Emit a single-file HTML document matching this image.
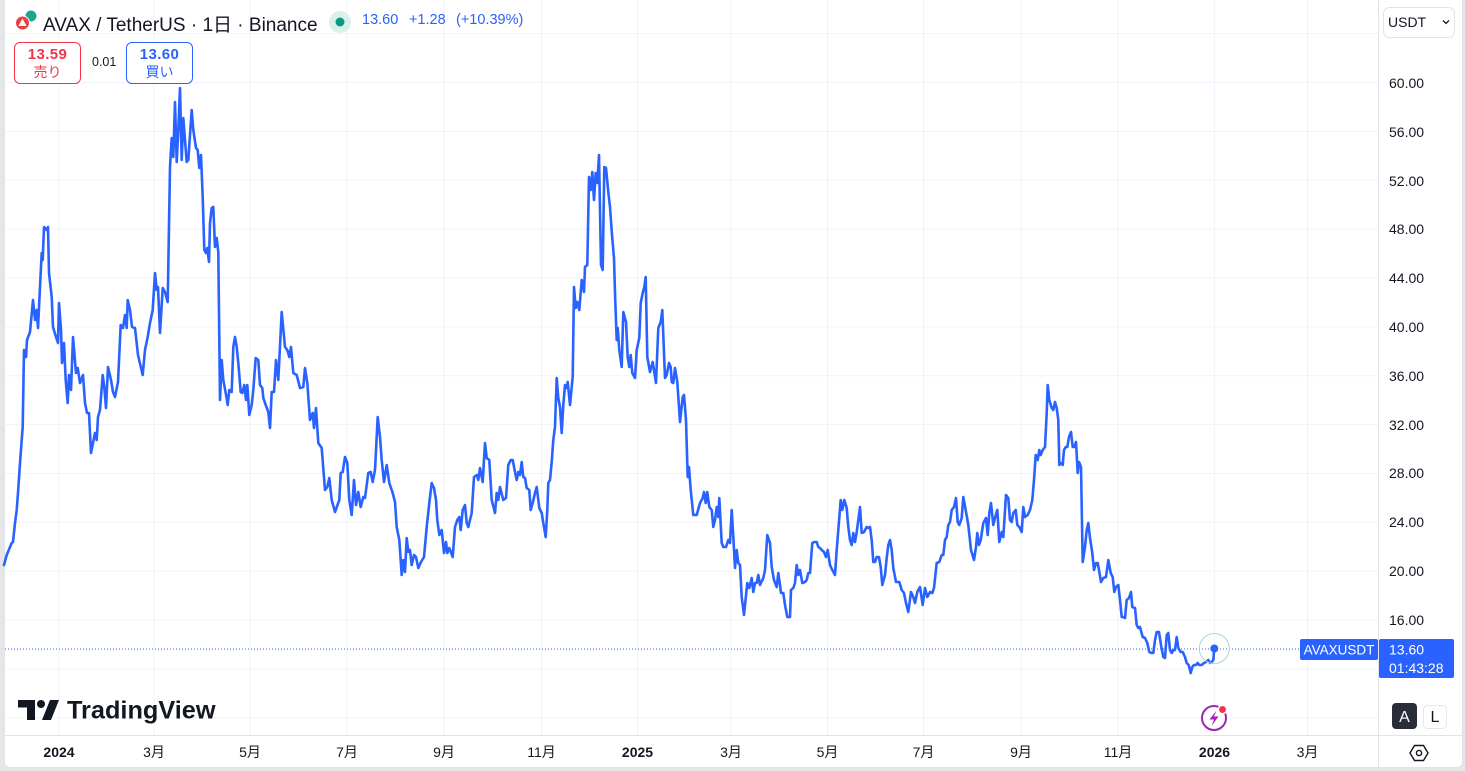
<!DOCTYPE html>
<html><head><meta charset="utf-8">
<style>
html,body{margin:0;padding:0;}
body{width:1465px;height:771px;background:#e6e6e6;position:relative;overflow:hidden;font-family:"Liberation Sans","Noto Sans CJK JP",sans-serif;}
.card{position:absolute;left:4px;top:0;width:1457px;height:767px;background:#fff;border:1px solid #e0e3eb;border-top:none;border-radius:0 0 6px 6px;}
.abs{position:absolute;}
.hdr{left:43px;top:10px;font-size:19px;color:#131722;white-space:nowrap;}
.q{top:12px;font-size:14.5px;color:#2962ff;white-space:nowrap;}
.box{width:65px;height:40px;border-radius:6px;text-align:center;background:#fff;}
.box .p{font-size:15px;font-weight:bold;margin-top:3px;line-height:17px;letter-spacing:0.4px;}
.box .l{font-size:14px;line-height:18px;}
</style></head>
<body>
<div class="card"></div>
<svg class="abs" style="left:0;top:0" width="1465" height="771" viewBox="0 0 1465 771">
 <g stroke="#f0f3fa" stroke-width="1">
  <line x1="4" y1="33.6" x2="1378" y2="33.6"/>
  <line x1="4" y1="82.5" x2="1378" y2="82.5"/>
  <line x1="4" y1="131.4" x2="1378" y2="131.4"/>
  <line x1="4" y1="180.3" x2="1378" y2="180.3"/>
  <line x1="4" y1="229.1" x2="1378" y2="229.1"/>
  <line x1="4" y1="278" x2="1378" y2="278"/>
  <line x1="4" y1="326.8" x2="1378" y2="326.8"/>
  <line x1="4" y1="375.7" x2="1378" y2="375.7"/>
  <line x1="4" y1="424.6" x2="1378" y2="424.6"/>
  <line x1="4" y1="473.4" x2="1378" y2="473.4"/>
  <line x1="4" y1="522.3" x2="1378" y2="522.3"/>
  <line x1="4" y1="571.2" x2="1378" y2="571.2"/>
  <line x1="4" y1="620" x2="1378" y2="620"/>
  <line x1="4" y1="668.9" x2="1378" y2="668.9"/>
  <line x1="4" y1="717.8" x2="1378" y2="717.8"/>
  <line x1="59" y1="0" x2="59" y2="735"/>
  <line x1="154" y1="0" x2="154" y2="735"/>
  <line x1="250" y1="0" x2="250" y2="735"/>
  <line x1="347" y1="0" x2="347" y2="735"/>
  <line x1="444" y1="0" x2="444" y2="735"/>
  <line x1="541.5" y1="0" x2="541.5" y2="735"/>
  <line x1="637.5" y1="0" x2="637.5" y2="735"/>
  <line x1="731" y1="0" x2="731" y2="735"/>
  <line x1="827.5" y1="0" x2="827.5" y2="735"/>
  <line x1="923.5" y1="0" x2="923.5" y2="735"/>
  <line x1="1021" y1="0" x2="1021" y2="735"/>
  <line x1="1118" y1="0" x2="1118" y2="735"/>
  <line x1="1214.5" y1="0" x2="1214.5" y2="735"/>
  <line x1="1307.5" y1="0" x2="1307.5" y2="735"/>
 </g>
 <line x1="1378.5" y1="0" x2="1378.5" y2="767" stroke="#e0e3eb" stroke-width="1"/>
 <line x1="4" y1="735.5" x2="1462" y2="735.5" stroke="#e0e3eb" stroke-width="1"/>
 <line x1="5" y1="649" x2="1300" y2="649" stroke="#2962ff" stroke-width="1" stroke-dasharray="1 2"/>
 <polyline fill="none" stroke="#2962ff" stroke-width="2.6" stroke-linejoin="round" stroke-linecap="round" points="4,565 6.7,555 11.7,543 13,542 15,523 16.7,510 18,493 20,463 22.7,427 24,350 26,357 27,340 30,332 33,300 35,320 36.7,310 38,328 40,287 41.7,253 42.7,260 44,227 46.7,230 48,227 49,273 51.7,297 53,327 56,337 58,343 59,303 61,330 62,363 64,343 65.7,380 67.7,403 69,375 71,390 73,337 76,373 77.7,368 80,383 83,375 85,403 87,413 89,413 91,453 93,443 95,433 96.7,440 98,417 100,410 102.7,375 104.3,387 106,408 108,367 111,380 113,392 115,397 118,382 120.7,325 123,328 125,315 126.7,328 127.7,300 130,310 132,327 135,328 138,355 142.7,375 145,350 147.7,337 150,323 152.7,310 155,273 156.7,290 158,287 160,333 162.7,288 165,292 167.7,302 170,167 171.7,138 173.3,157 175,102 176.7,162 178.3,130 180,88 181.7,160 183.3,118 186.7,162 188.3,160 191.7,110 193.3,130 196,148 197.7,150 199.3,168 201,155 202.7,197 204.3,250 206,253 207.3,248 209,262 210,223 211.7,208 213.3,207 215,247 216.7,238 218.3,252 220,400 221.7,360 223.3,380 225.7,393 227.7,405 229.3,390 231.7,392 233.3,347 235,337 236.7,347 238.3,363 240.7,392 242.3,393 244.3,385 246,400 247.3,385 249.3,415 251.7,405 253.3,390 255.7,358 258.3,360 260,385 262.3,388 263.3,398 265,403 268.3,412 270,428 271.7,392 274,392 276,360 278.3,380 281.7,312 285,347 287.3,350 289.3,357 291,347 293.3,373 296.7,375 300,388 303.3,387 305,368 307.3,383 310,420 312.7,413 314,428 316,408 318.3,443 321.7,448 325,490 327.3,487 329.3,478 331.7,500 335,512 339.3,500 340.7,473 342.7,472 345,457 347.3,463 349.3,500 351.7,515 354,480 356,505 358.3,492 360.7,507 363.3,497 365,498 368.3,473 370.7,472 372.7,482 375,470 377.7,417 380,437 381.7,460 384,482 386.7,465 389.3,483 392.7,493 395,502 396.7,527 399.3,540 401.7,575 403.3,560 405,572 406.7,538 408.3,552 410,550 411.7,565 414,555 416,557 418.3,568 421,562 424,557 426.7,527 429.3,503 431.7,483 434,488 436,500 437.3,520 439.3,535 441.7,530 444,553 446,542 447.3,553 449.3,548 452.7,557 455,527 457.3,520 459.3,517 460.7,530 462.7,510 465,505 466.7,523 468.3,527 471.7,513 474,477 476.7,475 478.3,480 480,468 482.7,482 485,443 486.7,458 489.3,460 491.7,500 495,513 496.7,493 498.3,500 500,487 503.3,500 506,498 508.3,465 510.7,460 512.7,460 515,472 516.7,480 518.3,472 520,475 521.7,462 523.3,477 525,478 526.7,488 529.3,490 530.7,510 532.7,503 535,493 536.7,487 539.3,508 541.7,513 543.3,523 545.7,537 547.3,510 548.3,483 550,480 551.7,462 553.3,440 555,427 556.7,378 558.3,398 560,407 561.7,433 563.3,405 565,385 566.7,388 567.7,382 570,405 572.7,377 574,287 575.7,308 577.3,302 579.3,310 581.7,280 584,292 585,267 587.3,265 589,177 590.7,190 592.3,172 594,200 595.7,173 597.3,183 599,155 601,265 602.7,270 604.3,167 606,168 608.3,192 610,207 612,235 614,258 615,293 616.7,340 617.7,328 619.3,350 621.7,367 623.3,312 626,322 627.7,357 629.3,367 630.7,355 632.3,373 635,378 636.7,350 639.3,338 640.7,303 642.7,293 644.3,287 645.7,277 647.3,357 650,372 652.7,362 654.3,372 656,383 658.3,328 660.7,322 662.3,310 665,378 666.7,375 669,363 670.7,367 671.7,382 673.3,383 675,368 677.3,382 680,422 682.7,397 684,395 686,420 687.7,477 689,467 690.7,490 693.3,515 696.7,515 700,503 702.7,498 704,492 705.7,503 707.3,492 709.3,507 711.7,510 713.3,527 715,520 716.7,507 718.3,517 719.3,498 721.7,543 723.3,547 726,547 728.3,540 730,543 731.7,510 733.3,537 735,568 736.7,550 738.3,563 740,565 741.7,597 744,615 747.3,583 749.3,588 751.7,578 753.3,592 755,583 756.7,583 758.3,575 760,585 763.3,578 765,570 767.3,535 770,543 771.7,567 774,580 776.7,587 778.3,573 780,585 781,593 783.3,593 785,605 787.3,617 790,617 791,590 793.3,588 795,583 796.7,565 798.3,575 800,570 802.3,583 805,582 806.7,580 808.3,573 810,573 812.3,543 814.3,542 816.7,542 818.3,547 820,548 821.7,550 824,552 826,557 827.7,550 830,565 832.3,570 835,575 836.7,550 838.3,530 840.7,500 842.3,510 844.3,500 846.7,508 848.3,527 850,540 851.7,545 853.3,533 855,542 856.7,532 858.3,520 860,507 861.7,533 864,532 866.7,527 868.3,528 870,527 871.7,540 873.3,562 875,562 876.7,557 879,557 880.7,567 882.3,585 885,575 886.7,558 888.3,545 890,540 891.7,550 893.3,568 896,582 899.3,582 901.7,590 904,593 906,603 908.3,612 911,592 913.3,597 915,603 917.3,592 920,587 922.7,605 925,588 927.3,597 930,592 932.3,593 934,588 936.7,563 939.3,562 941.7,555 943.3,555 945,540 946.7,537 948.3,525 950,522 951.7,510 954,507 956,498 957.7,522 959.3,525 961.7,518 963.3,497 965.7,510 968.3,525 971,550 974,560 976,547 977.3,533 979,545 980.7,540 983.3,523 986,518 987.7,535 989.3,513 991,503 993.3,525 995,518 997.3,510 999.3,542 1001.7,532 1003.3,537 1006,495 1008.3,498 1010,520 1011.7,522 1013.3,513 1015.7,510 1017.3,525 1019.3,527 1021.7,532 1023.3,507 1025,517 1027.7,515 1030,510 1032.3,500 1034,480 1035.7,455 1037.7,460 1039.3,450 1040.7,455 1042.7,450 1045,447 1046.7,413 1047.7,385 1049.3,400 1051.7,408 1053.3,410 1055,402 1056.7,408 1058.3,420 1059.3,465 1060.7,463 1062.7,465 1064,450 1065.7,447 1067.3,447 1069,437 1071,432 1072.7,447 1074.3,447 1076,442 1077.7,473 1079,462 1081,467 1082.7,562 1085,547 1086.7,530 1088.3,523 1090,538 1092.3,553 1094,570 1096,563 1097.7,563 1099,570 1101,582 1103.3,578 1106,577 1108.3,560 1110.7,573 1112.7,577 1114.3,592 1116,587 1118.3,585 1120,600 1121.7,617 1123.3,617 1125,618 1126.7,600 1129,598 1131,592 1132.3,607 1135,608 1136.7,625 1138.3,628 1140,627 1142.7,637 1145,638 1147.3,643 1149.3,652 1151.7,653 1153.3,653 1155,640 1156.7,632 1159,632 1161,645 1163.3,657 1165,658 1166.7,635 1168.3,633 1170,650 1171.7,653 1173.3,650 1175,650 1176.7,637 1178.3,648 1180.7,652 1182.7,652 1185,657 1186.7,663 1188.7,665 1190.7,673 1192.3,667 1194,665 1196,665 1197.7,663 1199.3,665 1201.7,665 1204,663 1206,662 1208.3,660 1210,663 1211.7,662 1213.3,660 1214.3,648"/>
 <circle cx="1214.3" cy="648.5" r="15" fill="none" stroke="#a6d8cc" stroke-width="1"/>
 <circle cx="1214.3" cy="648.5" r="4" fill="#2962ff"/>

 <g font-family="Liberation Sans, sans-serif" font-size="14" fill="#131722">
  <text x="1389" y="88">60.00</text>
  <text x="1389" y="137">56.00</text>
  <text x="1389" y="186">52.00</text>
  <text x="1389" y="234">48.00</text>
  <text x="1389" y="283">44.00</text>
  <text x="1389" y="332">40.00</text>
  <text x="1389" y="381">36.00</text>
  <text x="1389" y="430">32.00</text>
  <text x="1389" y="478">28.00</text>
  <text x="1389" y="527">24.00</text>
  <text x="1389" y="576">20.00</text>
  <text x="1389" y="625">16.00</text>
 </g>
 <rect x="1300" y="639" width="78" height="21" rx="2" fill="#2962ff"/>
 <text x="1339" y="654.5" text-anchor="middle" font-family="Liberation Sans, sans-serif" font-size="13.5" fill="#fff">AVAXUSDT</text>
 <rect x="1379" y="639" width="75" height="39" rx="2" fill="#2962ff"/>
 <text x="1389" y="654.5" font-family="Liberation Sans, sans-serif" font-size="14" fill="#fff">13.60</text>
 <text x="1389" y="673" font-family="Liberation Sans, sans-serif" font-size="14" fill="#fff">01:43:28</text>

 <g font-family="Liberation Sans, Noto Sans CJK JP, sans-serif" font-size="14" fill="#131722" text-anchor="middle">
  <text x="59" y="757" font-weight="bold">2024</text>
  <text x="154" y="757">3月</text>
  <text x="250" y="757">5月</text>
  <text x="347" y="757">7月</text>
  <text x="444" y="757">9月</text>
  <text x="541.5" y="757">11月</text>
  <text x="637.5" y="757" font-weight="bold">2025</text>
  <text x="731" y="757">3月</text>
  <text x="827.5" y="757">5月</text>
  <text x="923.5" y="757">7月</text>
  <text x="1021" y="757">9月</text>
  <text x="1118" y="757">11月</text>
  <text x="1214.5" y="757" font-weight="bold">2026</text>
  <text x="1307.5" y="757">3月</text>
 </g>
 <polygon points="1410,753 1414.5,745.5 1423.5,745.5 1428,753 1423.5,760.5 1414.5,760.5" fill="none" stroke="#131722" stroke-width="1.4"/>
 <circle cx="1419" cy="753" r="2.6" fill="none" stroke="#131722" stroke-width="1.4"/>

 <rect x="1392" y="703" width="25" height="26" rx="4" fill="#2a2e39"/>
 <text x="1404.5" y="722" text-anchor="middle" font-family="Liberation Sans, sans-serif" font-size="16" fill="#fff">A</text>
 <rect x="1423.5" y="705.5" width="23" height="23" rx="4" fill="#fff" stroke="#e6e8ee"/>
 <text x="1435" y="722" text-anchor="middle" font-family="Liberation Sans, sans-serif" font-size="16" fill="#131722">L</text>

 <circle cx="1214" cy="718" r="12" fill="#fff" stroke="#9c27b0" stroke-width="2"/>
 <path d="M1216.5,710.5 L1209.5,719.5 L1214,719.5 L1211.5,726 L1218.5,716.5 L1214,716.5 Z" fill="#9c27b0"/>
 <circle cx="1222.5" cy="709.5" r="4.2" fill="#f23645" stroke="#fff" stroke-width="1.5"/>

 <g fill="#131722">
  <path d="M18,700 H35 V720 H27 V707.5 H18 Z"/>
  <circle cx="41" cy="704" r="4"/>
  <path d="M50,700 H59 L51,720 H42 Z"/>
 </g>
 <text x="67" y="718.5" font-family="Liberation Sans, sans-serif" font-size="25.3" font-weight="bold" fill="#131722">TradingView</text>

 <circle cx="31" cy="16" r="6" fill="#1fa58e" stroke="#fff" stroke-width="1"/>
 <circle cx="22.5" cy="23" r="7" fill="#e84142" stroke="#fff" stroke-width="1"/>
 <path d="M22.5,18.5 L26.5,26 H18.5 Z" fill="#fff"/>
 <circle cx="340" cy="22" r="11" fill="#daf1ea"/>
 <circle cx="340" cy="22" r="4.5" fill="#089981"/>

 <rect x="1383.5" y="7.5" width="71" height="30" rx="6" fill="#fff" stroke="#e0e3eb"/>
 <text x="1388" y="27" font-family="Liberation Sans, sans-serif" font-size="14" fill="#131722">USDT</text>
 <path d="M1443,20.5 L1446,23.5 L1449,20.5" fill="none" stroke="#131722" stroke-width="1.3"/>
</svg>

<div class="abs hdr">AVAX / TetherUS · 1日 · Binance</div>
<div class="abs q" style="left:362px;">13.60</div>
<div class="abs q" style="left:409px;">+1.28</div>
<div class="abs q" style="left:456px;">(+10.39%)</div>

<div class="abs box" style="left:14px;top:42px;border:1px solid #f23645;color:#f23645;">
 <div class="p">13.59</div><div class="l">売り</div>
</div>
<div class="abs" style="left:92px;top:55px;font-size:12.5px;color:#131722;">0.01</div>
<div class="abs box" style="left:126px;top:42px;border:1px solid #2962ff;color:#2962ff;">
 <div class="p">13.60</div><div class="l">買い</div>
</div>
</body></html>
